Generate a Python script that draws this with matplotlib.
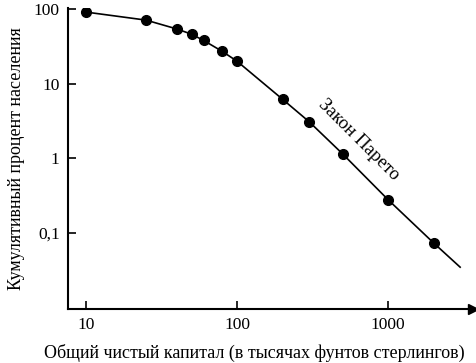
import numpy as np
import matplotlib.pyplot as plt
from matplotlib.ticker import NullLocator, FixedLocator, FixedFormatter

plt.rcParams['font.family'] = ['Liberation Serif', 'DejaVu Serif']

# Pareto data: net capital (thousands of pounds) vs cumulative % of population
capital = [10, 25, 40, 50, 60, 80, 100, 200, 300, 500, 1000, 2000]
percent = [91, 71, 54, 46, 38, 27, 20, 6.2, 3.1, 1.15, 0.28, 0.074]

# fitted curve (ends past the last point)
curve_x = capital + [3000]
curve_y = percent + [0.035]

yticks = [0.1, 1, 10, 100]
ylabels = ['0,1', '1', '10', '100']
xticks = [10, 100, 1000]
xlabels = ['10', '100', '1000']

fig = plt.figure(figsize=(4.77, 3.63), dpi=100)
ax = fig.add_axes([0.1426, 0.1488, 0.849, 0.829])

ax.plot(curve_x, curve_y, color='black', lw=1.2)
ax.plot(capital, percent, 'o', color='black', ms=7)

ax.set_xscale('log')
ax.set_yscale('log')
ax.set_xlim(7.6, 3650)
ax.set_ylim(0.00964, 103)

ax.xaxis.set_major_locator(FixedLocator(xticks))
ax.xaxis.set_major_formatter(FixedFormatter(xlabels))
ax.yaxis.set_major_locator(FixedLocator(yticks))
ax.yaxis.set_major_formatter(FixedFormatter(ylabels))
ax.xaxis.set_minor_locator(NullLocator())
ax.yaxis.set_minor_locator(NullLocator())
ax.tick_params(direction='in', length=6, width=1.2, labelsize=12.5, pad=6)

for s in ['top', 'right']:
    ax.spines[s].set_visible(False)
for s in ['left', 'bottom']:
    ax.spines[s].set_linewidth(1.5)

# arrow at the end of the x axis
ax.plot([1.0], [0.0], marker='>', color='black', ms=7,
        transform=ax.transAxes, clip_on=False)

ax.set_xlabel('Общий чистый капитал (в тысячах фунтов стерлингов)',
              fontsize=13)
ax.xaxis.set_label_coords(0.459, -0.115)
ax.set_ylabel('Кумулятивный процент населения', fontsize=13, labelpad=6)

ax.text(640, 1.75, 'Закон Парето', rotation=-45, fontsize=13.5,
        ha='center', va='center')

fig.savefig('out.png', dpi=100)
